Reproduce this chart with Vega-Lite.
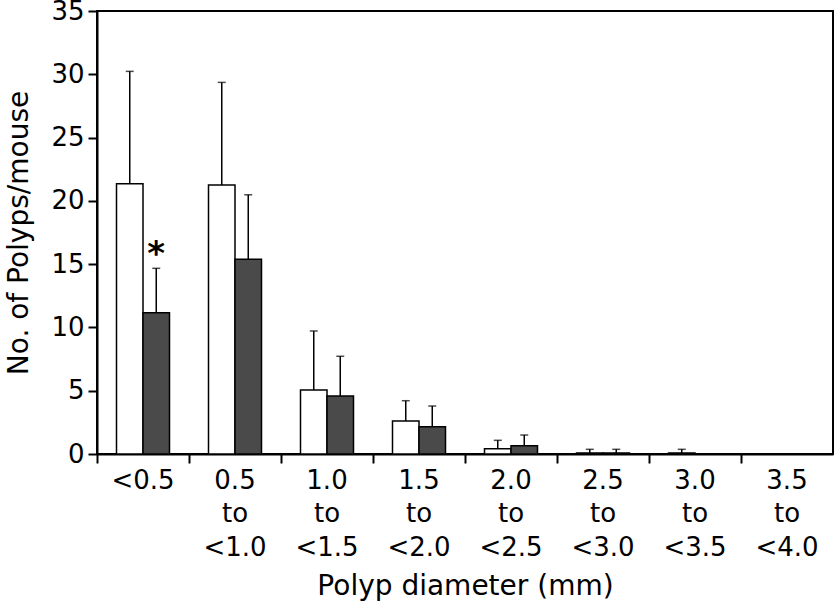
{
  "$schema": "https://vega.github.io/schema/vega-lite/v6.json",
  "width": 736,
  "height": 443,
  "autosize": {"type": "none"},
  "padding": {"left": 97, "top": 11, "right": 4, "bottom": 150},
  "background": "white",
  "config": {
    "view": {"stroke": "black", "strokeWidth": 2},
    "font": "DejaVu Sans",
    "axis": {
      "domainColor": "black",
      "domainWidth": 2,
      "tickColor": "black",
      "tickWidth": 2,
      "labelColor": "black",
      "titleColor": "black",
      "titleFontWeight": "normal",
      "grid": false
    }
  },
  "data": {
    "values": [
      {"cat": "<0.5", "grp": "A", "value": 21.35, "upper": 30.23, "note": ""},
      {"cat": "<0.5", "grp": "B", "value": 11.16, "upper": 14.67, "note": "*"},
      {"cat": "0.5|to|<1.0", "grp": "A", "value": 21.25, "upper": 29.36, "note": ""},
      {"cat": "0.5|to|<1.0", "grp": "B", "value": 15.38, "upper": 20.48, "note": ""},
      {"cat": "1.0|to|<1.5", "grp": "A", "value": 5.06, "upper": 9.72, "note": ""},
      {"cat": "1.0|to|<1.5", "grp": "B", "value": 4.58, "upper": 7.72, "note": ""},
      {"cat": "1.5|to|<2.0", "grp": "A", "value": 2.61, "upper": 4.21, "note": ""},
      {"cat": "1.5|to|<2.0", "grp": "B", "value": 2.16, "upper": 3.79, "note": ""},
      {"cat": "2.0|to|<2.5", "grp": "A", "value": 0.42, "upper": 1.08, "note": ""},
      {"cat": "2.0|to|<2.5", "grp": "B", "value": 0.66, "upper": 1.5, "note": ""},
      {"cat": "2.5|to|<3.0", "grp": "A", "value": 0.08, "upper": 0.37, "note": ""},
      {"cat": "2.5|to|<3.0", "grp": "B", "value": 0.08, "upper": 0.37, "note": ""},
      {"cat": "3.0|to|<3.5", "grp": "A", "value": 0.08, "upper": 0.37, "note": ""},
      {"cat": "3.0|to|<3.5", "grp": "B", "value": 0, "upper": 0, "note": ""},
      {"cat": "3.5|to|<4.0", "grp": "A", "value": 0, "upper": 0, "note": ""},
      {"cat": "3.5|to|<4.0", "grp": "B", "value": 0, "upper": 0, "note": ""}
    ]
  },
  "encoding": {
    "x": {
      "field": "cat",
      "type": "nominal",
      "sort": null,
      "scale": {"paddingInner": 0, "paddingOuter": 0},
      "axis": {
        "title": "Polyp diameter (mm)",
        "labelAngle": 0,
        "labelExpr": "split(datum.label, '|')",
        "labelFont": "DejaVu Sans",
        "labelFontSize": 26,
        "titleFont": "DejaVu Sans",
        "titleFontSize": 28,
        "labelLineHeight": 33.5,
        "labelPadding": 4,
        "tickSize": 9,
        "bandPosition": 0,
        "titlePadding": 12
      }
    },
    "xOffset": {
      "field": "grp",
      "type": "nominal",
      "scale": {"paddingOuter": 0.736, "paddingInner": 0}
    }
  },
  "layer": [
    {
      "transform": [{"filter": "datum.upper > 0"}],
      "mark": {"type": "rule", "color": "black", "strokeWidth": 1.5},
      "encoding": {
        "y": {"field": "value", "type": "quantitative"},
        "y2": {"field": "upper"}
      }
    },
    {
      "mark": {"type": "bar", "stroke": "black", "strokeWidth": 1.5},
      "encoding": {
        "y": {
          "field": "value",
          "type": "quantitative",
          "scale": {"domain": [0, 35], "nice": false},
          "axis": {
            "title": "No. of Polyps/mouse",
            "values": [0, 5, 10, 15, 20, 25, 30, 35],
            "labelFont": "DejaVu Sans",
            "labelFontSize": 26,
            "titleFont": "DejaVu Sans",
            "titleFontSize": 28,
            "tickSize": 9,
            "labelPadding": 4,
            "titlePadding": 17
          }
        },
        "fill": {
          "field": "grp",
          "type": "nominal",
          "scale": {"range": ["white", "#4a4a4a"]},
          "legend": null
        }
      }
    },
    {
      "transform": [{"filter": "datum.upper > 0"}],
      "mark": {"type": "tick", "color": "black", "size": 8, "thickness": 1.5},
      "encoding": {
        "y": {"field": "upper", "type": "quantitative"}
      }
    },
    {
      "transform": [{"filter": "datum.note != ''"}],
      "mark": {"type": "text", "fontSize": 34, "fontWeight": "bold", "baseline": "bottom", "dy": 4, "color": "black"},
      "encoding": {
        "y": {"field": "upper", "type": "quantitative"},
        "text": {"field": "note"}
      }
    }
  ]
}
